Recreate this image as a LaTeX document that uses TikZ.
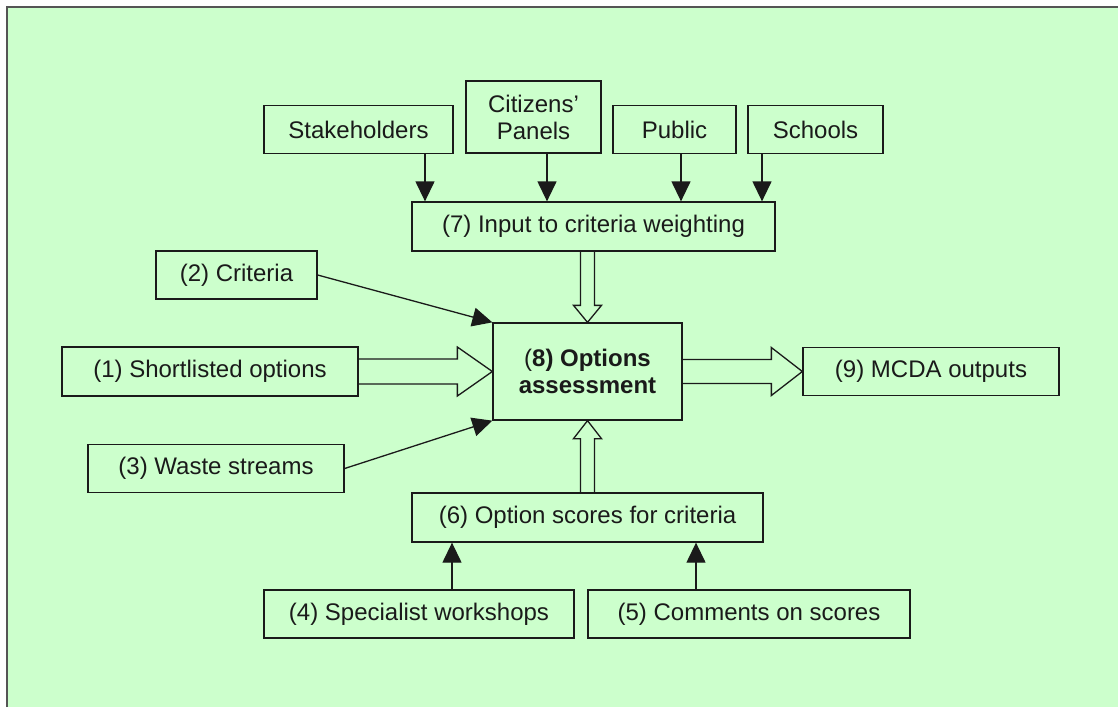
\documentclass[tikz,border=0pt]{standalone}
\usepackage{fontspec}
\setmainfont{Liberation Sans}
\usepackage{tikz}
\usetikzlibrary{arrows.meta,calc}
\definecolor{panelgreen}{HTML}{CCFFCC}
\definecolor{framegray}{HTML}{555555}
\definecolor{ink}{HTML}{1A1A1A}

\begin{document}
\begin{tikzpicture}[
  x=0.5pt, y=-0.5pt,
  box/.style={draw=ink, line width=0.65pt, fill=panelgreen, align=center, inner sep=0pt,
              font=\fontsize{12}{13.5}\selectfont, text=ink, minimum height=24pt},
  arr/.style={-{Triangle[length=10pt,width=9.5pt]}, line width=0.65pt, draw=ink},
  hollow/.style={draw=ink, line width=0.65pt, line join=miter}]
  \useasboundingbox (0,0) rectangle (1118,707);
  \fill[panelgreen] (7,7) rectangle (1118,707);
  \draw[framegray, line width=1pt] (7,707) -- (7,7) -- (1118,7);
  % inputs to weighting
  \node[box, minimum width=94.5pt] (stake) at (358.5,129.5) {Stakeholders};
  \node[box, minimum width=67.5pt, minimum height=36pt] (citiz) at (533.5,117) {Citizens'\\Panels};
  \node[box, minimum width=61.5pt] (public) at (674.5,129.5) {Public};
  \node[box, minimum width=67.5pt] (schools) at (815.5,129.5) {Schools};
  \node[box, minimum width=181.5pt, minimum height=24.5pt] (weight) at (593.5,226.5) {(7) Input to criteria weighting};
  % left column
  \node[box, minimum width=80.5pt] (crit) at (236.5,275) {(2) Criteria};
  \node[box, minimum width=148pt, minimum height=24.5pt] (short) at (210,371.5) {(1) Shortlisted options};
  \node[box, minimum width=128pt] (waste) at (216,468.5) {(3) Waste streams};
  % centre and output
  \node[box, minimum width=94.5pt, minimum height=48.5pt] (assess) at (587.5,371.5) {(\textbf{8) Options}\\\textbf{assessment}};
  \node[box, minimum width=128pt] (mcda) at (931,371.5) {(9) MCDA outputs};
  % scoring
  \node[box, minimum width=175.5pt, minimum height=24.5pt] (scores) at (587.5,517.5) {(6) Option scores for criteria};
  \node[box, minimum width=155pt] (spec) at (419,614) {(4) Specialist workshops};
  \node[box, minimum width=161pt] (comm) at (749,614) {(5) Comments on scores};
  % solid arrows
  \draw[arr] ([xshift=33.25pt]stake.south) -- ([xshift=33.25pt]stake.south |- weight.north);
  \draw[arr] ([xshift=6.75pt]citiz.south) -- ([xshift=6.75pt]citiz.south |- weight.north);
  \draw[arr] ([xshift=3.25pt]public.south) -- ([xshift=3.25pt]public.south |- weight.north);
  \draw[arr] ([xshift=-26.75pt]schools.south) -- ([xshift=-26.75pt]schools.south |- weight.north);
  \draw[arr] (crit.east) -- (assess.north west);
  \draw[arr] (waste.east) -- (assess.south west);
  \draw[arr] ([xshift=16.5pt]spec.north) -- ([xshift=16.5pt]spec.north |- scores.south);
  \draw[arr] ([xshift=-26.5pt]comm.north) -- ([xshift=-26.5pt]comm.north |- scores.south);
  % hollow arrows
  \draw[hollow] ($(short.east)+(0,-12.5)$) -- ($(assess.west)+(-35,-12.5)$) -- ($(assess.west)+(-35,-24.5)$)
    -- (assess.west) -- ($(assess.west)+(-35,24.5)$) -- ($(assess.west)+(-35,12.5)$) -- ($(short.east)+(0,12.5)$);
  \draw[hollow] ($(assess.east)+(0,-12)$) -- ($(mcda.west)+(-31,-12)$) -- ($(mcda.west)+(-31,-24)$)
    -- (mcda.west) -- ($(mcda.west)+(-31,24)$) -- ($(mcda.west)+(-31,12)$) -- ($(assess.east)+(0,12)$);
  \draw[hollow] ($(weight.south -| assess.north)+(-7,0)$) -- ($(assess.north)+(-7,-17)$) -- ($(assess.north)+(-14,-17)$)
    -- (assess.north) -- ($(assess.north)+(14,-17)$) -- ($(assess.north)+(7,-17)$) -- ($(weight.south -| assess.north)+(7,0)$);
  \draw[hollow] ($(scores.north)+(-7,0)$) -- ($(assess.south)+(-7,18)$) -- ($(assess.south)+(-14,18)$)
    -- (assess.south) -- ($(assess.south)+(14,18)$) -- ($(assess.south)+(7,18)$) -- ($(scores.north)+(7,0)$);
\end{tikzpicture}
\end{document}
